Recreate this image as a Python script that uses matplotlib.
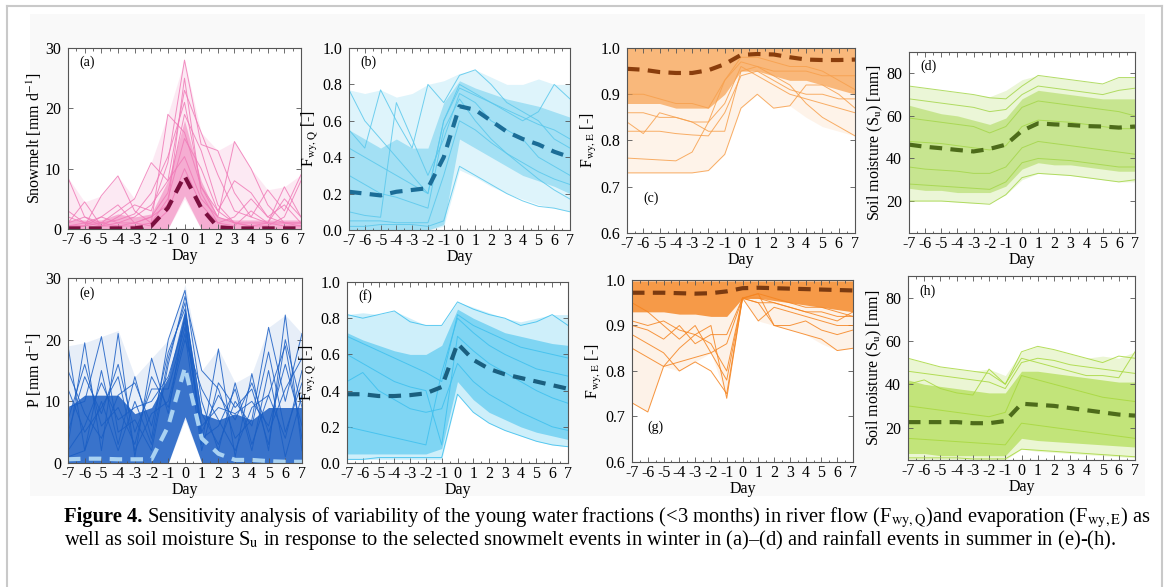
import numpy as np
import matplotlib
matplotlib.use("Agg")
import matplotlib.pyplot as plt
from matplotlib.ticker import MultipleLocator, FormatStrFormatter

plt.rcParams['font.family'] = ['Liberation Serif', 'DejaVu Serif']
plt.rcParams['mathtext.fontset'] = 'stix'
plt.rcParams['axes.unicode_minus'] = False

days = np.arange(-7, 8)

# ---- (a) snowmelt, winter ----
mean_a = [0.1, 0.1, 0.1, 0.1, 0.1, 0.5, 3.5, 8.8, 3.5, 0.3, 0.1, 0.1, 0.1, 0.1, 0.1]
outer_hi_a = [8.5, 4.5, 5.5, 8.8, 5, 11, 19, 28, 16, 13, 14.5, 10, 6.5, 7, 9]
outer_lo_a = [0, 0, 0, 0, 0, 0, 0, 5, 0, 0, 0, 0, 0, 0, 0]
core_hi_a = [1.5, 1.5, 1.5, 2.5, 2, 2.5, 8, 18, 8, 2, 1.5, 1.5, 1.5, 1.5, 1.5]
core_lo_a = [0, 0, 0, 0, 0, 0, 0, 5.5, 0, 0, 0, 0, 0, 0, 0]
lines_a = [
    [8.5, 2, 0.5, 0.5, 0.5, 1, 5, 15, 10, 3, 1, 0.5, 0.5, 2, 8],
    [1, 4.5, 0.5, 2, 4, 3, 11, 28, 14, 13, 6, 2, 1, 7, 2],
    [0.5, 0.5, 5.5, 8.8, 3, 1, 19, 16, 7, 2, 14.5, 10, 4, 1, 0.5],
    [2, 1, 2, 1, 2, 4, 8, 23, 16, 9, 3, 2, 6.5, 3, 9],
    [0.5, 1, 1, 3, 5, 11, 8, 12, 5, 2, 1, 1, 1, 1, 1],
    [0, 0.5, 1, 0.5, 1, 2, 4, 25, 6, 1, 2, 5, 2, 4, 1],
    [3, 1, 0.5, 1, 1, 2, 6, 19, 13, 4, 1, 0.5, 1, 0.5, 0.5],
    [0.5, 0.5, 2, 4, 1, 0.5, 3, 10, 4, 1, 0.5, 3, 1, 5, 2],
    [1, 2, 1, 1.5, 2.5, 6, 12, 21, 7, 3, 8, 6, 2, 1, 1],
]

# ---- (b) Fwy,Q winter ----
mean_b = [0.21, 0.20, 0.19, 0.21, 0.22, 0.23, 0.40, 0.68, 0.66, 0.60, 0.54, 0.50, 0.47, 0.43, 0.40]
outer_hi_b = [0.77, 0.75, 0.77, 0.73, 0.75, 0.80, 0.82, 0.86, 0.88, 0.84, 0.80, 0.80, 0.83, 0.80, 0.80]
outer_lo_b = [0, 0, 0, 0, 0, 0, 0.02, 0.33, 0.29, 0.24, 0.20, 0.17, 0.14, 0.12, 0.10]
core_hi_b = [0.55, 0.50, 0.45, 0.50, 0.45, 0.45, 0.70, 0.82, 0.78, 0.75, 0.72, 0.70, 0.68, 0.65, 0.62]
core_lo_b = [0, 0, 0, 0, 0, 0, 0.03, 0.50, 0.45, 0.40, 0.35, 0.30, 0.27, 0.24, 0.20]
lines_b = [
    [0.77, 0.60, 0.50, 0.40, 0.30, 0.20, 0.60, 0.80, 0.75, 0.70, 0.65, 0.60, 0.65, 0.80, 0.72],
    [0.02, 0.02, 0.03, 0.03, 0.03, 0.02, 0.05, 0.35, 0.30, 0.25, 0.20, 0.16, 0.13, 0.12, 0.10],
    [0.55, 0.45, 0.77, 0.60, 0.45, 0.80, 0.70, 0.85, 0.88, 0.80, 0.70, 0.65, 0.60, 0.50, 0.45],
    [0.10, 0.08, 0.07, 0.70, 0.50, 0.30, 0.50, 0.75, 0.70, 0.60, 0.55, 0.50, 0.40, 0.35, 0.30],
    [0.30, 0.25, 0.20, 0.18, 0.15, 0.12, 0.55, 0.72, 0.60, 0.50, 0.42, 0.35, 0.28, 0.22, 0.17],
    [0.45, 0.40, 0.35, 0.30, 0.25, 0.20, 0.60, 0.78, 0.74, 0.70, 0.66, 0.62, 0.58, 0.55, 0.50],
    [0.05, 0.05, 0.05, 0.04, 0.04, 0.04, 0.30, 0.60, 0.55, 0.48, 0.42, 0.37, 0.32, 0.28, 0.25],
]

# ---- (c) Fwy,E winter ----
mean_c = [0.955, 0.953, 0.948, 0.946, 0.946, 0.952, 0.965, 0.985, 0.987, 0.986, 0.980, 0.975, 0.974, 0.974, 0.975]
outer_hi_c = [1.0] * 15
outer_lo_c = [0.73, 0.73, 0.73, 0.73, 0.73, 0.735, 0.77, 0.87, 0.90, 0.87, 0.875, 0.85, 0.83, 0.82, 0.81]
core_hi_c = [1.0] * 15
core_lo_c = [0.88, 0.88, 0.88, 0.87, 0.87, 0.87, 0.90, 0.95, 0.95, 0.94, 0.93, 0.93, 0.92, 0.91, 0.90]
lines_c = [
    [0.762, 0.76, 0.758, 0.756, 0.775, 0.84, 0.93, 0.97, 0.96, 0.95, 0.95, 0.95, 0.94, 0.94, 0.94],
    [0.73, 0.73, 0.73, 0.73, 0.73, 0.735, 0.77, 0.87, 0.90, 0.87, 0.875, 0.92, 0.92, 0.90, 0.87],
    [0.84, 0.815, 0.86, 0.85, 0.84, 0.82, 0.82, 0.95, 0.96, 0.94, 0.92, 0.88, 0.85, 0.83, 0.81],
    [0.82, 0.82, 0.82, 0.815, 0.812, 0.81, 0.86, 0.94, 0.95, 0.93, 0.91, 0.90, 0.90, 0.89, 0.89],
    [0.90, 0.90, 0.89, 0.88, 0.88, 0.87, 0.93, 0.98, 0.98, 0.97, 0.96, 0.96, 0.95, 0.93, 0.91],
    [0.86, 0.86, 0.85, 0.85, 0.84, 0.84, 0.88, 0.96, 0.94, 0.92, 0.90, 0.89, 0.88, 0.87, 0.86],
]

# ---- (d) soil moisture winter ----
mean_d = [46.5, 45.5, 44.8, 44.0, 43.3, 44.5, 46.5, 53.0, 56.5, 56.0, 55.7, 55.2, 55.0, 54.5, 55.0]
outer_hi_d = [74, 73, 72, 71, 70, 69, 72, 77, 79, 78, 77, 76, 75, 78, 78]
outer_lo_d = [20, 20, 20, 19.5, 19, 19, 23, 30, 33, 32.5, 32, 31, 30, 29, 29]
core_hi_d = [65, 63, 61, 60, 58, 56, 59, 68, 72, 71, 70, 69, 68, 68, 68]
core_lo_d = [26, 25, 25, 24, 24, 24, 27, 35, 38, 37, 37, 36, 35, 34, 34]
lines_d = [
    [74, 73, 72, 71, 70, 68.5, 68, 74, 79, 78, 77, 76, 75, 78, 78],
    [20, 20, 20, 19.5, 19, 18.5, 23, 31, 33, 32.5, 32, 31, 30, 29, 30],
    [59, 58, 57, 56, 55, 52, 55, 64, 67, 66, 65, 64, 63, 62, 60],
    [36, 35, 34.5, 34, 33, 33, 36, 45, 48, 47, 46, 45, 44, 43, 42],
    [48, 47.5, 47, 46, 45, 44, 46, 55, 58, 57.5, 57, 56, 55, 54, 54],
    [68, 67, 66, 65, 64, 62, 63, 70, 74, 73, 72, 71, 70, 72, 73],
    [28, 27.5, 27, 26.5, 26, 25.5, 29, 38, 40, 39.5, 39, 38, 37, 36, 36],
]

# ---- (e) precipitation summer ----
mean_e = [0.6, 0.7, 0.7, 0.6, 0.6, 0.6, 6.0, 15.5, 4.0, 1.5, 0.5, 0.5, 0.3, 0.2, 0.2]
outer_hi_e = [19, 19.5, 20.5, 21.5, 14, 17, 20, 29, 15, 18.5, 13, 14.5, 22, 24, 21]
outer_lo_e = [0, 0, 0, 0, 0, 0, 0, 7, 0, 0, 0, 0, 0, 0, 0]
core_hi_e = [9, 11, 11, 11, 8, 9, 14, 25, 8, 7, 8, 7, 9, 9, 9]
core_lo_e = [0, 0, 0, 0, 0, 0, 0, 7.5, 0, 0, 0, 0, 0, 0, 0]
lines_e = [
    [19, 2, 15, 3, 14, 4, 20, 28, 10, 2, 13, 3, 11, 4, 15],
    [3, 19.5, 2, 21, 1, 17, 8, 24, 3, 18.5, 1, 14.5, 2, 24, 2],
    [9, 10, 20.5, 5, 7, 2, 16, 27, 15, 12, 4, 7, 22, 10, 21],
    [5, 14, 8, 16, 5, 12, 12, 22, 6, 9, 8, 10, 6, 16, 6],
    [1, 2, 10, 2, 10, 3, 17, 26, 4, 6, 12, 2, 15, 1, 11],
    [12, 5, 9, 14, 2, 8, 10, 21, 2, 13, 9, 12, 3, 20, 9],
    [15, 8, 4, 11, 13, 6, 18, 25, 8, 3, 10, 6, 18, 5, 13],
    [7, 16, 6, 9, 3, 14, 9, 20, 12, 7, 2, 9, 11, 19, 4],
    [2, 6, 13, 7, 9, 10, 14, 23, 5, 11, 7, 13, 5, 12, 17],
]

# ---- (f) Fwy,Q summer ----
mean_f = [0.38, 0.38, 0.37, 0.37, 0.375, 0.385, 0.42, 0.66, 0.57, 0.52, 0.49, 0.47, 0.45, 0.43, 0.41]
outer_hi_f = [0.82, 0.83, 0.82, 0.84, 0.80, 0.76, 0.76, 0.89, 0.86, 0.83, 0.80, 0.78, 0.80, 0.82, 0.82]
outer_lo_f = [0.02, 0.02, 0.02, 0.02, 0.02, 0.02, 0.02, 0.38, 0.28, 0.22, 0.18, 0.15, 0.12, 0.10, 0.09]
core_hi_f = [0.72, 0.68, 0.65, 0.62, 0.60, 0.60, 0.65, 0.85, 0.80, 0.76, 0.72, 0.70, 0.68, 0.66, 0.65]
core_lo_f = [0.05, 0.05, 0.05, 0.05, 0.05, 0.05, 0.08, 0.45, 0.35, 0.28, 0.24, 0.20, 0.17, 0.15, 0.13]
lines_f = [
    [0.82, 0.80, 0.82, 0.84, 0.78, 0.76, 0.76, 0.89, 0.85, 0.82, 0.80, 0.76, 0.78, 0.82, 0.76],
    [0.02, 0.02, 0.03, 0.03, 0.03, 0.03, 0.03, 0.38, 0.28, 0.22, 0.18, 0.15, 0.12, 0.10, 0.09],
    [0.60, 0.55, 0.50, 0.45, 0.42, 0.40, 0.10, 0.70, 0.62, 0.55, 0.50, 0.45, 0.40, 0.36, 0.33],
    [0.20, 0.18, 0.16, 0.14, 0.12, 0.10, 0.50, 0.80, 0.72, 0.65, 0.60, 0.56, 0.52, 0.50, 0.48],
    [0.45, 0.50, 0.40, 0.35, 0.30, 0.28, 0.30, 0.55, 0.45, 0.38, 0.33, 0.28, 0.24, 0.20, 0.18],
    [0.70, 0.66, 0.62, 0.58, 0.54, 0.50, 0.45, 0.82, 0.76, 0.72, 0.68, 0.64, 0.62, 0.60, 0.58],
]

# ---- (g) Fwy,E summer ----
mean_g = [0.972, 0.972, 0.972, 0.971, 0.970, 0.971, 0.975, 0.982, 0.983, 0.982, 0.981, 0.980, 0.979, 0.978, 0.977]
outer_hi_g = [1.0] * 15
outer_lo_g = [0.73, 0.71, 0.81, 0.80, 0.82, 0.84, 0.74, 0.96, 0.91, 0.90, 0.89, 0.88, 0.86, 0.845, 0.85]
core_hi_g = [0.998] * 15
core_lo_g = [0.93, 0.93, 0.93, 0.925, 0.925, 0.92, 0.92, 0.96, 0.96, 0.955, 0.95, 0.945, 0.94, 0.935, 0.93]
lines_g = [
    [0.73, 0.71, 0.81, 0.85, 0.88, 0.90, 0.74, 0.96, 0.95, 0.95, 0.94, 0.93, 0.93, 0.92, 0.92],
    [0.88, 0.86, 0.84, 0.80, 0.82, 0.80, 0.75, 0.96, 0.91, 0.94, 0.93, 0.92, 0.91, 0.90, 0.90],
    [0.85, 0.83, 0.81, 0.82, 0.83, 0.84, 0.78, 0.96, 0.95, 0.90, 0.89, 0.88, 0.87, 0.845, 0.85],
    [0.90, 0.89, 0.87, 0.90, 0.86, 0.88, 0.88, 0.96, 0.97, 0.96, 0.95, 0.94, 0.94, 0.93, 0.92],
    [0.95, 0.93, 0.90, 0.87, 0.90, 0.84, 0.86, 0.96, 0.97, 0.90, 0.90, 0.91, 0.89, 0.88, 0.89],
    [0.91, 0.90, 0.91, 0.89, 0.88, 0.86, 0.80, 0.96, 0.96, 0.95, 0.94, 0.93, 0.92, 0.91, 0.93],
]

# ---- (h) soil moisture summer ----
mean_h = [22.5, 22.5, 22.5, 22.5, 22.0, 22.0, 23.0, 31.0, 30.5, 30.0, 29.0, 28.0, 27.0, 26.0, 25.5]
outer_hi_h = [52, 50, 48, 47, 46, 47, 44, 55, 57.5, 56, 54, 52, 53, 52, 55]
outer_lo_h = [5, 5, 5, 5, 5, 5, 5, 10, 9, 8.5, 8, 7.5, 7, 6.5, 6]
core_hi_h = [42, 40, 39, 38, 37, 36, 36, 46, 46, 45, 44, 43, 42, 41, 41]
core_lo_h = [8, 8, 7, 7, 7, 7, 7, 15, 14, 13.5, 13, 12.5, 12, 11.5, 11]
lines_h = [
    [52, 50, 48, 47, 46, 45, 40, 55, 57.5, 56, 54, 52, 50, 53, 52],
    [6, 6, 6, 6, 5.5, 5.5, 5.5, 10, 9.5, 9, 8.5, 8, 7.5, 7, 6.5],
    [40, 42, 38, 36, 35, 47, 40, 52, 50, 48, 46, 44, 44, 43, 55],
    [30, 29, 28, 27, 26, 25, 27, 44, 42, 40, 38, 36, 34, 33, 32],
    [15, 14.5, 14, 13.5, 13, 12.5, 12, 22, 21, 20, 19, 18, 17, 16, 15],
    [46, 45, 44, 43, 42, 41, 38, 50, 52, 51, 49, 48, 47, 46, 45],
]

W, H = 1167, 587
fig = plt.figure(figsize=(W / 100, H / 100), dpi=100)

# light frame and faint grey backdrop of the figure image
bg = plt.Rectangle((30 / W, 1 - 496 / H), 1115 / W, 482 / H, transform=fig.transFigure,
                   facecolor='#f9f9f9', edgecolor='none', zorder=-10)
fig.patches.append(bg)
for xs, ys in [([7, 7], [6, 600]), ([1162, 1162], [6, 600]), ([7, 1162], [6, 6])]:
    fig.add_artist(plt.Line2D([x / W for x in xs], [1 - y / H for y in ys],
                              color='#c9c9c9', lw=1.5, transform=fig.transFigure))


def ax_at(l, t, r, b):
    return fig.add_axes([l / W, 1 - b / H, (r - l) / W, (b - t) / H])


panels = [
    # pos, mean, outer hi/lo, core hi/lo, lines, line colour, mean colour, band alphas,
    # ylim, ystep, ylabel, tag, tagpos, yfmt
    ((68, 48, 301, 229), mean_a, outer_hi_a, outer_lo_a, core_hi_a, core_lo_a, lines_a,
     '#f07cb8', '#7b0f3f', (0.16, 0.55), (0, 30), 10, 'Snowmelt [mm d$^{-1}$]', '(a)', (0.05, 0.9), '%d'),
    ((349, 48, 570, 230), mean_b, outer_hi_b, outer_lo_b, core_hi_b, core_lo_b, lines_b,
     '#5bc8ec', '#1b6d97', (0.2, 0.45), (0, 1), 0.2, 'F$_{\\mathrm{wy,Q}}$ [-]', '(b)', (0.05, 0.9), '%.1f'),
    ((627, 48, 855, 233), mean_c, outer_hi_c, outer_lo_c, core_hi_c, core_lo_c, lines_c,
     '#f7a04d', '#8a3d0c', (0.12, 0.7), (0.6, 1), 0.1, 'F$_{\\mathrm{wy,E}}$ [-]', '(c)', (0.07, 0.17), '%.1f'),
    ((909, 52, 1135, 233), mean_d, outer_hi_d, outer_lo_d, core_hi_d, core_lo_d, lines_d,
     '#a5d64b', '#4d6b1a', (0.22, 0.5), (5, 90), 20, 'Soil moisture (S$_{\\mathrm{u}}$) [mm]', '(d)', (0.05, 0.9), '%d'),
    ((68, 278, 302, 463), mean_e, outer_hi_e, outer_lo_e, core_hi_e, core_lo_e, lines_e,
     '#1a5ec4', '#a9d2f2', (0.1, 0.85), (0, 30), 10, 'P [mm d$^{-1}$]', '(e)', (0.05, 0.9), '%d'),
    ((347, 282, 568, 463), mean_f, outer_hi_f, outer_lo_f, core_hi_f, core_lo_f, lines_f,
     '#3fc0ee', '#1a5f7f', (0.25, 0.55), (0, 1), 0.2, 'F$_{\\mathrm{wy,Q}}$ [-]', '(f)', (0.05, 0.9), '%.1f'),
    ((632, 280, 853, 462), mean_g, outer_hi_g, outer_lo_g, core_hi_g, core_lo_g, lines_g,
     '#f58420', '#7b3a10', (0.1, 0.8), (0.6, 1), 0.1, 'F$_{\\mathrm{wy,E}}$ [-]', '(g)', (0.07, 0.17), '%.1f'),
    ((908, 276, 1135, 460), mean_h, outer_hi_h, outer_lo_h, core_hi_h, core_lo_h, lines_h,
     '#a8d83e', '#4d6b1a', (0.22, 0.6), (5, 90), 20, 'Soil moisture (S$_{\\mathrm{u}}$) [mm]', '(h)', (0.05, 0.9), '%d'),
]

for (pos, mean, ohi, olo, chi, clo, lines, lc, mc, alphas, ylim, ystep, ylab, tag, tagpos, yfmt) in panels:
    ax = ax_at(*pos)
    ax.fill_between(days, olo, ohi, color=lc, alpha=alphas[0], lw=0)
    ax.fill_between(days, clo, chi, color=lc, alpha=alphas[1], lw=0)
    for ln in lines:
        ax.plot(days, ln, color=lc, lw=0.7, alpha=0.85)
    ax.plot(days, mean, color=mc, lw=3, ls=(0, (3, 2)))
    ax.set_xlim(-7, 7)
    ax.set_ylim(*ylim)
    ax.set_xticks(days)
    ax.xaxis.set_minor_locator(MultipleLocator(0.5))
    if ylim[0] == 5:
        ax.set_yticks([20, 40, 60, 80])
    else:
        ax.yaxis.set_major_locator(MultipleLocator(ystep))
    ax.yaxis.set_major_formatter(FormatStrFormatter(yfmt))
    ax.tick_params(which='both', direction='in', top=True, right=True, labelsize=11.5,
                   color='#555555', width=0.6)
    ax.tick_params(axis='x', pad=2)
    ax.tick_params(axis='y', pad=5)
    ax.tick_params(which='major', length=3.5)
    ax.tick_params(which='minor', length=1.8)
    for s in ax.spines.values():
        s.set_color('#555555')
        s.set_linewidth(0.8)
    ax.set_xlabel('Day', fontsize=11.5, labelpad=0)
    ax.set_ylabel(ylab, fontsize=11.5, labelpad=1)
    ax.text(tagpos[0], tagpos[1], tag, transform=ax.transAxes, fontsize=10)

# caption, sized so that the first line ends near the right frame
x0_px, x_end_px = 64, 1152
y1 = 1 - 522 / H
y2 = 1 - 545 / H
cap1 = ('Sensitivity analysis of variability of the young water fractions (<3 months) in river flow '
        '(F$_{\\mathrm{wy,Q}}$)and evaporation (F$_{\\mathrm{wy,E}}$) as')
cap2 = ('well as soil moisture S$_{\\mathrm{u}}$ in response to the selected snowmelt events in winter '
        'in (a)\u2013(d) and rainfall events in summer in (e)-(h).')
fs = 12.5
t_b = fig.text(x0_px / W, y1, 'Figure 4.', fontsize=fs, weight='bold', va='baseline')
t_1 = fig.text(0, y1, cap1, fontsize=fs, va='baseline')
t_2 = fig.text(x0_px / W, y2, cap2, fontsize=fs, va='baseline')
for _ in range(3):
    fig.canvas.draw()
    bb = t_b.get_window_extent()
    t_1.set_x((bb.x1 + 5) / W)
    fig.canvas.draw()
    right = t_1.get_window_extent().x1
    fs = fs * (x_end_px - x0_px) / (right - x0_px)
    for t in (t_b, t_1, t_2):
        t.set_fontsize(fs)
fig.canvas.draw()
t_1.set_x((t_b.get_window_extent().x1 + 5) / W)

fig.savefig('out.png', dpi=100)
